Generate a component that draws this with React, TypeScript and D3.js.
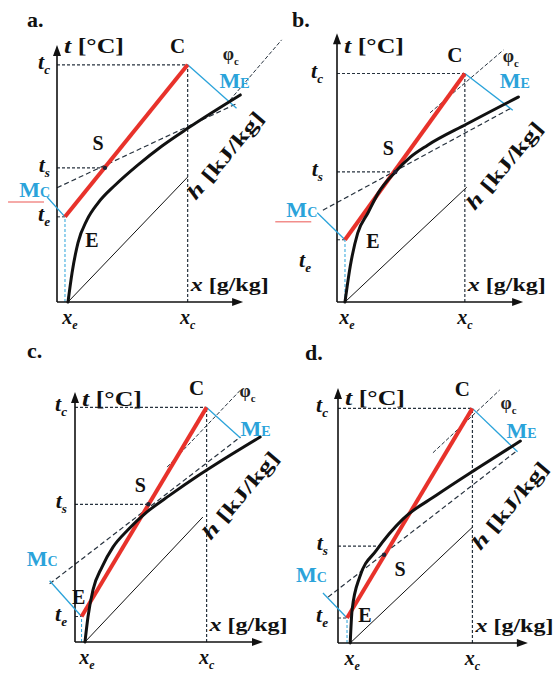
import * as d3 from "d3";
import React from "react";

const panelNames = ["a.", "b.", "c.", "d."];

// saturation curves [x g/kg, t °C]
const curveA = [[1.17, 0], [1.6, 5.7], [2.23, 11.6], [3.19, 16.1], [4.36, 19.4], [6.17, 22.9], [8.62, 26.9], [11.17, 30.6], [13.94, 34.1], [19.5, 40.6]];
const curveB = [[0.85, 0], [1.4, 6.9], [2.2, 13.5], [3.3, 17.5], [4.4, 21.4], [6.2, 25.5], [7.8, 28.4], [9.6, 30.7], [13.8, 34.9], [19.3, 40.2]];
const curveC = [[1.06, 0], [1.38, 4.9], [1.91, 10.2], [2.87, 14.7], [4.04, 18.6], [5.64, 22.0], [7.66, 25.5], [10.1, 28.8], [13.0, 32.5], [15.1, 35.0], [19.7, 40.2]];
const curveD = [[1.3, 0], [1.5, 6.5], [2.3, 12.9], [4.1, 18.2], [6.9, 24.3], [10.5, 29.0], [14.8, 34.2], [19.4, 39.6]];
const curves = [curveA, curveB, curveC, curveD];

// key states per panel: E (te), C (tc), S (ts)
const pointE = [[0.85, 16.7], [0.85, 12.2], [0.7, 5.0], [0.96, 4.9]];
const pointC = [[13.9, 46.5], [13.6, 44.8], [14.0, 46.0], [14.3, 46.0]];
const pointS = [[5.1, 26.3], [6.2, 25.5], [7.8, 27.0], [4.9, 17.3]];
const tsLevel = [[5.1, 26.3], [6.2, 25.5], [7.8, 27.0], [4.5, 19.0]];

// mixing line Mc -> Me and its blue markers
const mixStart = [[0, 22.4], [-1.5, 18.0], [-2.7, 11.4], [-1.06, 9.0]];
const mixEnd = [[19.0, 38.8], [18.7, 38.2], [17.6, 40.2], [19.1, 37.8]];
const mcMark = [[-1.06, 20.6], [-2.1, 17.5], [-2.7, 12.0], [-1.6, 9.8]];
const meMark = [[19.1, 38.0], [18.7, 37.6], [17.6, 40.0], [19.1, 37.5]];

// phi_c line and enthalpy line end
const phiStart = [[18.4, 39.6], [9.9, 37.1], [9.8, 34.3], [10.1, 37.3]];
const phiEnd = [[23.9, 51.4], [17.7, 49.4], [17.6, 49.4], [17.2, 49.6]];
const hEnd = [[13.9, 24.5], [13.8, 22.5], [13.6, 24.5], [14.3, 22.7]];

// axis extent
const axisMax = [[19.8, 50.4], [19.8, 52.7], [20, 49], [20.2, 50]];

// layout
const origins = [[57, 302], [337, 302], [75, 642], [338, 643]];
const letterPos = [[27, 27], [292, 27], [27, 358], [305, 360]];
const titleY = [53, 53, 406, 405];
const tLabelDx = [-7, -14, -8, -10];
const sOffset = [[-7, -18], [-7, -17], [-8, -12], [16, 21]];
const eOffset = [[27, 30], [28, 8], [-3, -13], [18, 4]];
const mcOffset = [[3, 0], [0, 4], [8, -15], [4, -11]];
const meOffset = [[-17, -20], [-13, -22], [0, -2], [-11, -14]];
const phiOffset = [[35, -5], [38, -12], [33, -10], [28, 1]];
const teShift = [[0, 0], [-12, 23], [0, 0], [0, 0]];

const RED = "#e8322b";
const BLUE = "#2ba3da";
const DASH = "#27323e";
const FONT = "'Liberation Serif', 'Times New Roman', serif";

const Sub = ({ x, y, main, sub, anchor = "start", size = 22, color = "#111", italic = true }) => (
  <text x={x} y={y} textAnchor={anchor} fontFamily={FONT} fontWeight="bold" fontSize={size} fill={color}
    fontStyle={italic ? "italic" : "normal"}>
    {main}
    <tspan fontSize={size * 0.6} dy={5}>{sub}</tspan>
  </text>
);

// "M" with a small-cap index on the same baseline
const Mark = ({ x, y, sub, anchor = "start" }) => (
  <text x={x} y={y} textAnchor={anchor} fontFamily={FONT} fontWeight="bold" fontSize={22} fill={BLUE}>
    M<tspan fontSize={14}>{sub}</tspan>
  </text>
);

const Panel = ({ i }) => {
  const [ox, oy] = origins[i];
  const x = d3.scaleLinear().domain([0, 20]).range([ox, ox + 188]);
  const y = d3.scaleLinear().domain([0, 50]).range([oy, oy - 255]);
  const line = d3.line().x((d) => x(d[0])).y((d) => y(d[1]));
  const curve = d3.line().x((d) => x(d[0])).y((d) => y(d[1])).curve(d3.curveMonotoneX);

  const E = pointE[i], C = pointC[i], S = pointS[i], ts = tsLevel[i];
  const [xMax, tMax] = axisMax[i];
  const base = curves[i][0];
  const Cx = x(C[0]), Cy = y(C[1]);
  const Ex = x(E[0]), Ey = y(E[1]);
  const Sx = x(S[0]), Sy = y(S[1]);
  const axX = x(0), axY = y(0);
  const tipX = x(xMax), tipY = y(tMax);
  const hx = x(hEnd[i][0]), hy = y(hEnd[i][1]);
  const mcX = x(mcMark[i][0]) + mcOffset[i][0], mcY = y(mcMark[i][1]) + mcOffset[i][1];

  return (
    <g>
      <text x={letterPos[i][0]} y={letterPos[i][1]} fontFamily={FONT} fontWeight="bold" fontSize={22} fill="#111">
        {panelNames[i]}
      </text>

      {/* guide lines */}
      <path d={line([[0, C[1]], C])} stroke={DASH} strokeWidth={1.2} strokeDasharray="3,2" fill="none" />
      <path d={line([[C[0], 0], C])} stroke={DASH} strokeWidth={1.2} strokeDasharray="3,2" fill="none" />
      <path d={line([[0, ts[1]], ts])} stroke={DASH} strokeWidth={1.2} strokeDasharray="3,2" fill="none" />
      <path d={line([[0, E[1]], E])} stroke={DASH} strokeWidth={1} strokeDasharray="3,2" fill="none" />
      <path d={line([[E[0], 0], E])} stroke={BLUE} strokeWidth={1} strokeDasharray="3,2" fill="none" />
      <path d={line([mixStart[i], mixEnd[i]])} stroke={DASH} strokeWidth={1.2} strokeDasharray="5,3" fill="none" />
      <path d={line([phiStart[i], phiEnd[i]])} stroke={DASH} strokeWidth={1} strokeDasharray="4,2" fill="none" />

      {/* enthalpy line */}
      <path d={line([base, hEnd[i]])} stroke="#111" strokeWidth={1} fill="none" />

      {/* axes */}
      <line x1={axX} y1={axY} x2={axX} y2={tipY + 4} stroke="#111" strokeWidth={1.6} />
      <line x1={axX} y1={axY} x2={tipX - 4} y2={axY} stroke="#111" strokeWidth={1.6} />
      <path d={`M${axX},${tipY} l-4,11 l8,0 z`} fill="#111" />
      <path d={`M${tipX},${axY} l-11,-4 l0,8 z`} fill="#111" />

      {/* blue markers */}
      <path d={line([E, mcMark[i]])} stroke={BLUE} strokeWidth={1.3} fill="none" />
      <path d={line([C, meMark[i]])} stroke={BLUE} strokeWidth={1.3} fill="none" />

      {/* process line and saturation curve */}
      <path d={line([E, C])} stroke={RED} strokeWidth={4} fill="none" />
      <path d={curve(curves[i])} stroke="#111" strokeWidth={3} fill="none" strokeLinecap="round" />
      <circle cx={Sx} cy={Sy} r={2.2} fill="#223" />

      {/* axis titles */}
      <text x={axX + 7} y={titleY[i]} fontFamily={FONT} fontWeight="bold" fontSize={22} fill="#111" textLength={60}
        lengthAdjust="spacingAndGlyphs">
        <tspan fontStyle="italic">t</tspan> [°C]
      </text>
      <text x={Cx + 3} y={axY - 11} fontFamily={FONT} fontWeight="bold" fontSize={19} fill="#111" textLength={78}
        lengthAdjust="spacingAndGlyphs">
        <tspan fontStyle="italic">x</tspan> [g/kg]
      </text>
      <text transform={`translate(${hx + 8},${hy + 24}) rotate(-50)`} fontFamily={FONT} fontWeight="bold" fontSize={20}
        fill="#111" textLength={108} lengthAdjust="spacingAndGlyphs">
        <tspan fontStyle="italic">h</tspan> [kJ/kg]
      </text>

      {/* point labels */}
      <text x={Cx - 10} y={Cy - 12} textAnchor="middle" fontFamily={FONT} fontWeight="bold" fontSize={21} fill="#111">C</text>
      <text x={Sx + sOffset[i][0]} y={Sy + sOffset[i][1]} textAnchor="middle" fontFamily={FONT} fontWeight="bold"
        fontSize={20} fill="#111">S</text>
      <text x={Ex + eOffset[i][0]} y={Ey + eOffset[i][1]} textAnchor="middle" fontFamily={FONT} fontWeight="bold"
        fontSize={20} fill="#111">E</text>

      <Sub x={axX + tLabelDx[i]} y={Cy + 4} main="t" sub="c" anchor="end" />
      <Sub x={axX + tLabelDx[i]} y={y(ts[1]) + 4} main="t" sub="s" anchor="end" />
      <Sub x={axX + tLabelDx[i] + teShift[i][0]} y={Ey + 4 + teShift[i][1]} main="t" sub="e" anchor="end" />
      <Sub x={x(base[0]) + 2} y={axY + 22} main="x" sub="e" anchor="middle" size={20} />
      <Sub x={Cx} y={axY + 22} main="x" sub="c" anchor="middle" size={20} />

      <Mark x={mcX} y={mcY} sub="C" anchor="end" />
      <Mark x={x(meMark[i][0]) + meOffset[i][0]} y={y(meMark[i][1]) + meOffset[i][1]} sub="E" />
      <Sub x={Cx + phiOffset[i][0]} y={Cy + phiOffset[i][1]} main="φ" sub="c" size={18} color="#222" italic={false} />
      {i < 2 && (
        <line x1={mcX - 42} x2={mcX - 6} y1={mcY + 5} y2={mcY + 5} stroke={RED} strokeOpacity={0.55} strokeWidth={1.5} />
      )}
    </g>
  );
};

export default function App() {
  return (
    <svg width={557} height={673} style={{ position: "absolute", left: 0, top: 0, background: "#fff" }}>
      {panelNames.map((_, i) => (
        <Panel key={i} i={i} />
      ))}
    </svg>
  );
}
